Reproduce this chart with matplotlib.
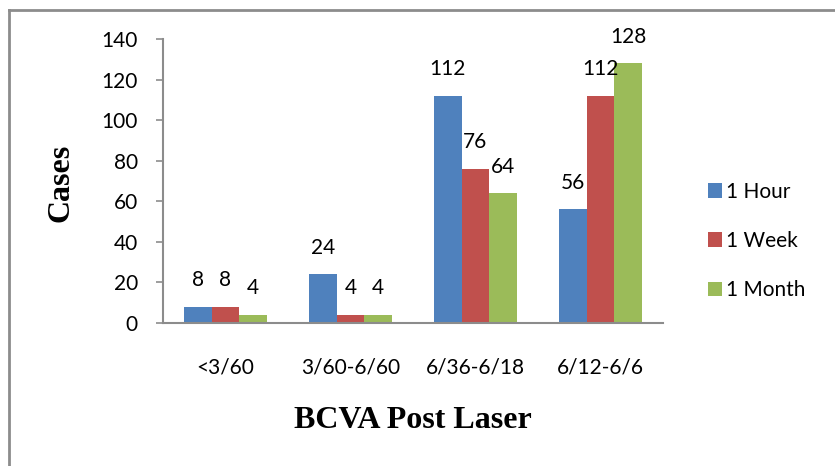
import matplotlib
matplotlib.use("Agg")
import matplotlib.pyplot as plt
import numpy as np
from matplotlib.lines import Line2D
from matplotlib.patches import Patch

categories = ["<3/60", "3/60-6/60", "6/36-6/18", "6/12-6/6"]
series_names = ["1 Hour", "1 Week", "1 Month"]
hour_vals = [8, 24, 112, 56]
week_vals = [8, 4, 76, 112]
month_vals = [4, 4, 64, 128]
y_ticks = [0, 20, 40, 60, 80, 100, 120, 140]

colors = ["#4F81BD", "#C0504D", "#9BBB59"]
tick_font = "Lato"
label_font = "Liberation Serif"
fs = 15

W, H = 835, 466
fig = plt.figure(figsize=(W / 100, H / 100), dpi=100)
ax = fig.add_axes([163 / W, 1 - 323 / H, 500 / W, (323 - 39) / H])

x = np.arange(len(categories))
bw = 0.222
all_vals = [hour_vals, week_vals, month_vals]
for i, (vals, name, c) in enumerate(zip(all_vals, series_names, colors)):
    pos = x + (i - 1) * bw
    ax.bar(pos, vals, width=bw, color=c, label=name, linewidth=0)
    for p, v in zip(pos, vals):
        ax.annotate(str(v), (p, v), xytext=(0, 19), textcoords="offset points",
                    ha="center", va="center", fontsize=fs, family=tick_font)

ax.set_xlim(-0.5, len(categories) - 0.5)
ax.set_ylim(0, 140)
ax.set_yticks(y_ticks)
ax.set_xticks(x)
ax.set_xticklabels(categories, family=tick_font, fontsize=fs)
ax.set_yticklabels([str(t) for t in y_ticks], family=tick_font, fontsize=fs)
ax.tick_params(axis="x", length=0, pad=25)
ax.tick_params(axis="y", length=5, width=1.2, color="#8c8c8c", pad=13)
for s in ["top", "right"]:
    ax.spines[s].set_visible(False)
for s in ["left", "bottom"]:
    ax.spines[s].set_color("#8c8c8c")
    ax.spines[s].set_linewidth(1.5)

fig.text(61 / W, 1 - 183 / H, "Cases", rotation=90, ha="center", va="center",
         family=label_font, fontweight="bold", fontsize=23)
fig.text(413 / W, 1 - 420 / H, "BCVA Post Laser", ha="center", va="center",
         family=label_font, fontweight="bold", fontsize=23)

handles = [Patch(facecolor=c, edgecolor="none") for c in colors]
fig.legend(handles, series_names, loc="center left",
           bbox_to_anchor=(689 / W, 1 - 241 / H), frameon=False,
           prop={"family": tick_font, "size": fs}, handlelength=0.7,
           handleheight=0.7, handletextpad=0.2, labelspacing=1.4)

# outer frame: top and left edges
fig.add_artist(Line2D([9 / W, 1], [1 - 10 / H, 1 - 10 / H], color="#8c8c8c",
                      lw=2, transform=fig.transFigure))
fig.add_artist(Line2D([9 / W, 9 / W], [0, 1 - 10 / H], color="#8c8c8c",
                      lw=2, transform=fig.transFigure))

fig.savefig("out.png", dpi=100)
